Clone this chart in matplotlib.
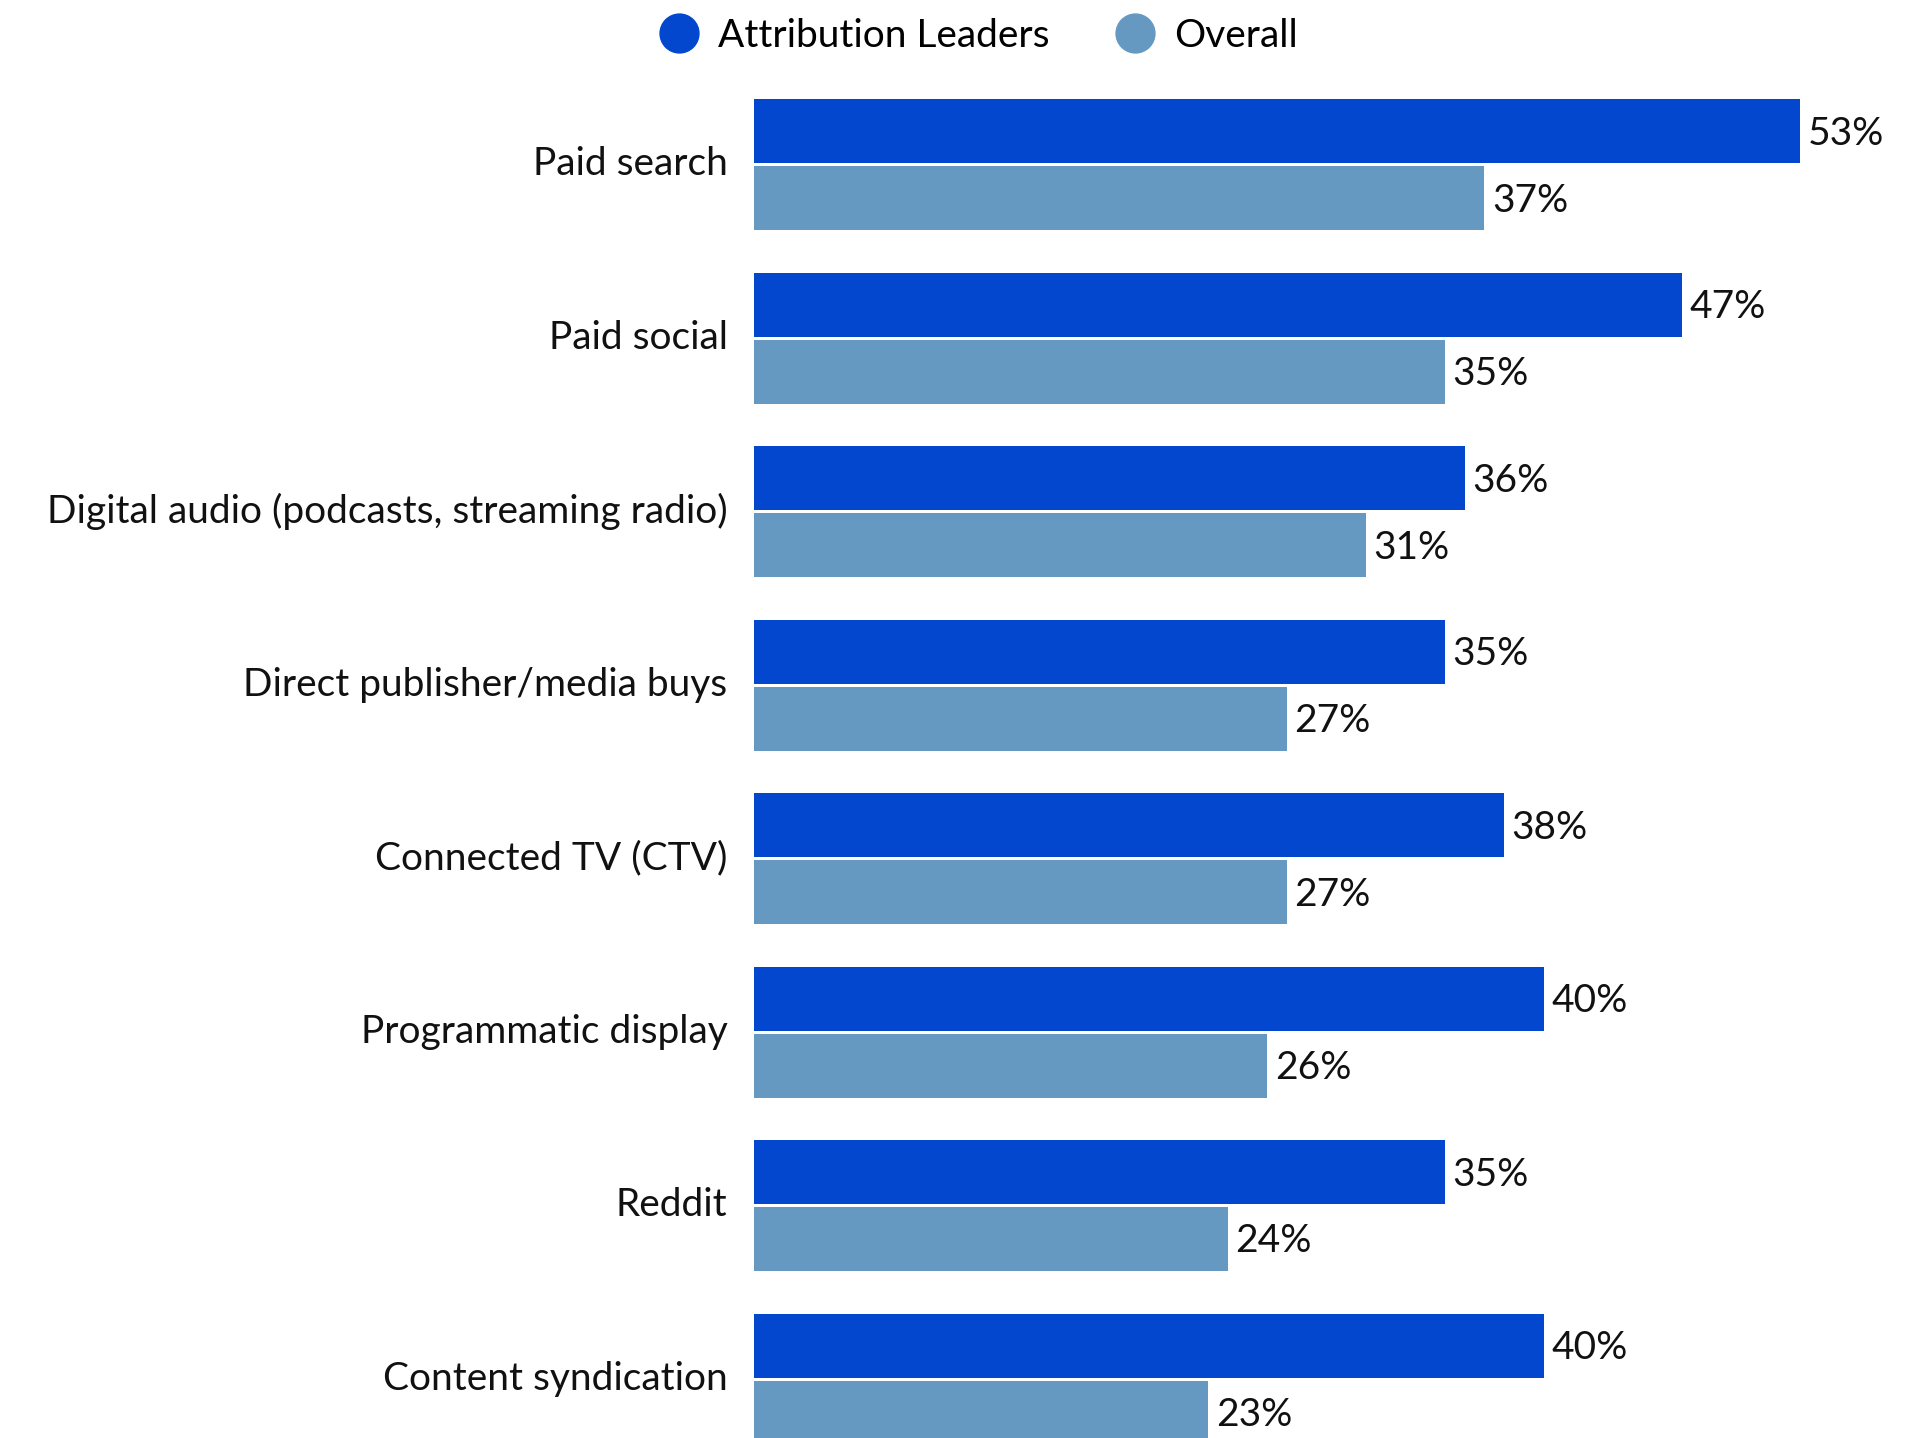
import matplotlib
matplotlib.use("Agg")
import matplotlib.pyplot as plt
from matplotlib.lines import Line2D
from matplotlib.transforms import ScaledTranslation
import numpy as np

categories = ["Paid search", "Paid social", "Digital audio (podcasts, streaming radio)",
              "Direct publisher/media buys", "Connected TV (CTV)", "Programmatic display",
              "Reddit", "Content syndication"]
leaders = [53, 47, 36, 35, 38, 40, 35, 40]
overall = [37, 35, 31, 27, 27, 26, 24, 23]
series_names = ["Attribution Leaders", "Overall"]
colors = ["#0347CF", "#6699C1"]

plt.rcParams['font.family'] = ['Lato', 'DejaVu Sans']

W, H = 1929, 1438
fig = plt.figure(figsize=(W / 100, H / 100), dpi=100)
left_px = 754
ax = fig.add_axes([left_px / W, 0, (W - left_px) / W, 1])

px_per_unit = 19.74
group_px = 173.5
center0 = 164.5
ax.set_xlim(0, (W - left_px) / px_per_unit)
ax.set_ylim((H - center0) / group_px, -center0 / group_px)

bh = 64 / group_px
gap = 3 / group_px
y = np.arange(len(categories))
off = (bh + gap) / 2
b1 = ax.barh(y - off, leaders, height=bh, color=colors[0])
b2 = ax.barh(y + off, overall, height=bh, color=colors[1])

fs = 28
for bars, vals in ((b1, leaders), (b2, overall)):
    for rect, v in zip(bars, vals):
        ax.annotate(f"{v}%", (rect.get_width(), rect.get_y() + rect.get_height() / 2),
                    xytext=(5.5, -1.8), textcoords="offset points", va="center", ha="left",
                    fontsize=fs, color="#111111")

ax.set_yticks(y)
ax.set_yticklabels(categories, fontsize=fs, color="#111111")
ax.tick_params(axis="y", length=0, pad=19)
shift = ScaledTranslation(0, 2.6 / 72, fig.dpi_scale_trans)
for lab in ax.get_yticklabels():
    lab.set_transform(lab.get_transform() + shift)
ax.set_xticks([])
for s in ax.spines.values():
    s.set_visible(False)

handles = [Line2D([], [], marker="o", linestyle="none", markersize=28, color=c) for c in colors]
fig.legend(handles, series_names, loc="center", bbox_to_anchor=(977 / W, 1 - 36 / H),
           ncol=2, frameon=False, fontsize=fs, handletextpad=0.4, columnspacing=1.6,
           borderpad=0, handlelength=1.2)

fig.savefig("out.png", dpi=100)
